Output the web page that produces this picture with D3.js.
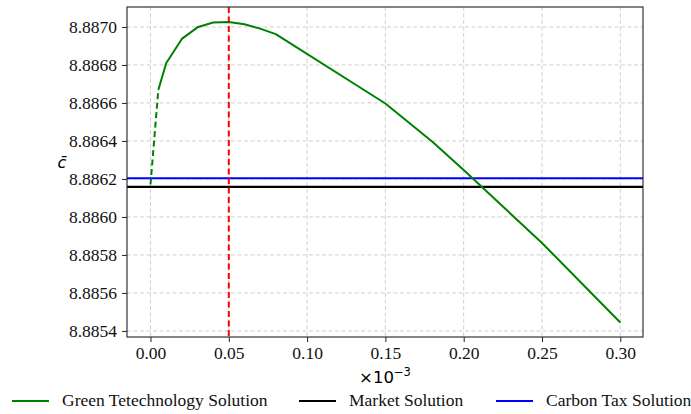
<!DOCTYPE html>
<html>
<head>
<meta charset="utf-8">
<script src="https://cdn.jsdelivr.net/npm/d3@7"></script>
<style>
  body { margin: 0; background: #fff; }
  svg { display: block; }
</style>
</head>
<body>
<div id="chart"></div>
<script>
// x values are in units of 1e-3
const greenX = [0.005, 0.01, 0.02, 0.03, 0.04, 0.05, 0.06, 0.07, 0.08, 0.15, 0.18, 0.20, 0.25, 0.30]
const greenY = [8.886668, 8.886809, 8.886937, 8.886998, 8.887023, 8.887026, 8.887014, 8.886991, 8.886962,
  8.886597, 8.886396, 8.886247, 8.885863, 8.885444]
// first segment (dashed) from x=0
const dashX = [0, 0.005]
const dashY = [8.886171, 8.886668]
const marketValue = 8.886158
const carbonTaxValue = 8.886204
const redLineX = 0.05

const xTicks = [0, 0.05, 0.1, 0.15, 0.2, 0.25, 0.3]
const yTicks = [8.8854, 8.8856, 8.8858, 8.886, 8.8862, 8.8864, 8.8866, 8.8868, 8.887]
const legendLabels = ['Green Tetechnology Solution', 'Market Solution', 'Carbon Tax Solution']
const legendColors = ['green', 'black', 'blue']

const width = 691
const height = 414
const margin = { top: 7, right: 48, bottom: 77, left: 127 }
const serif = "'Liberation Serif', 'Times New Roman', serif"
const fontSize = 17.5

const svg = d3.select('#chart').append('svg')
  .attr('width', width)
  .attr('height', height)

const x = d3.scaleLinear().domain([-0.015, 0.3145]).range([margin.left, width - margin.right])
const y = d3.scaleLinear().domain([8.885368, 8.887105]).range([height - margin.bottom, margin.top])

// grid
const grid = svg.append('g')
grid.selectAll('.gx').data(xTicks).join('line')
  .attr('x1', (d) => x(d)).attr('x2', (d) => x(d))
  .attr('y1', margin.top).attr('y2', height - margin.bottom)
grid.selectAll('.gy').data(yTicks).join('line')
  .attr('class', 'gy')
  .attr('x1', margin.left).attr('x2', width - margin.right)
  .attr('y1', (d) => y(d)).attr('y2', (d) => y(d))
grid.selectAll('line')
  .attr('stroke', '#cfcfcf')
  .attr('stroke-width', 1)
  .attr('stroke-dasharray', '4,2.5')

// horizontal reference lines
svg.append('line')
  .attr('x1', margin.left).attr('x2', width - margin.right)
  .attr('y1', y(marketValue)).attr('y2', y(marketValue))
  .attr('stroke', 'black').attr('stroke-width', 2.2)
svg.append('line')
  .attr('x1', margin.left).attr('x2', width - margin.right)
  .attr('y1', y(carbonTaxValue)).attr('y2', y(carbonTaxValue))
  .attr('stroke', 'blue').attr('stroke-width', 2)

// green curve
const line = d3.line().x((d) => x(d[0])).y((d) => y(d[1]))
svg.append('path')
  .attr('d', line(dashX.map((d, i) => [d, dashY[i]])))
  .attr('fill', 'none').attr('stroke', 'green').attr('stroke-width', 2)
  .attr('stroke-dasharray', '6,3.5')
svg.append('path')
  .attr('d', line(greenX.map((d, i) => [d, greenY[i]])))
  .attr('fill', 'none').attr('stroke', 'green').attr('stroke-width', 2)
  .attr('stroke-linejoin', 'round')

// red dashed vertical
svg.append('line')
  .attr('x1', x(redLineX)).attr('x2', x(redLineX))
  .attr('y1', margin.top).attr('y2', height - margin.bottom)
  .attr('stroke', 'red').attr('stroke-width', 2)
  .attr('stroke-dasharray', '6,3.5')

// axes
const xAxis = svg.append('g')
  .attr('transform', `translate(0,${height - margin.bottom})`)
  .call(d3.axisBottom(x).tickValues(xTicks).tickFormat(d3.format('.2f')).tickSizeOuter(0).tickSize(5).tickPadding(5))
const yAxis = svg.append('g')
  .attr('transform', `translate(${margin.left},0)`)
  .call(d3.axisLeft(y).tickValues(yTicks).tickFormat(d3.format('.4f')).tickSizeOuter(0).tickSize(5).tickPadding(5))
for (const ax of [xAxis, yAxis]) {
  ax.attr('font-family', null).attr('font-size', null)
  ax.select('.domain').remove()
  ax.selectAll('text')
    .style('font-family', serif)
    .style('font-size', fontSize + 'px')
    .attr('fill', '#111')
  ax.selectAll('line').attr('stroke', '#222')
}

// frame
svg.append('rect')
  .attr('x', margin.left).attr('y', margin.top)
  .attr('width', width - margin.left - margin.right)
  .attr('height', height - margin.top - margin.bottom)
  .attr('fill', 'none').attr('stroke', '#222').attr('stroke-width', 1.1)

// axis labels
const xl = svg.append('text')
  .attr('x', (margin.left + width - margin.right) / 2)
  .attr('y', 383)
  .attr('text-anchor', 'middle')
  .attr('font-family', '"DejaVu Sans", sans-serif')
  .attr('font-size', 16.5)
xl.append('tspan').text('×10')
xl.append('tspan').attr('dy', -7).attr('font-size', 11.5).text('−3')

svg.append('text')
  .attr('x', 62).attr('y', 168)
  .attr('text-anchor', 'middle')
  .attr('font-family', '"DejaVu Sans", sans-serif')
  .attr('font-style', 'italic')
  .attr('font-size', 16)
  .text('c\u0304')

// legend
const legendX = [12, 299, 496]
const legend = svg.append('g')
legendLabels.forEach((lab, i) => {
  legend.append('line')
    .attr('x1', legendX[i]).attr('x2', legendX[i] + 37)
    .attr('y1', 401).attr('y2', 401)
    .attr('stroke', legendColors[i]).attr('stroke-width', 2)
  legend.append('text')
    .attr('x', legendX[i] + 50).attr('y', 406)
    .style('font-family', serif).style('font-size', fontSize + 'px')
    .attr('fill', '#111')
    .text(lab)
})
</script>
</body>
</html>
